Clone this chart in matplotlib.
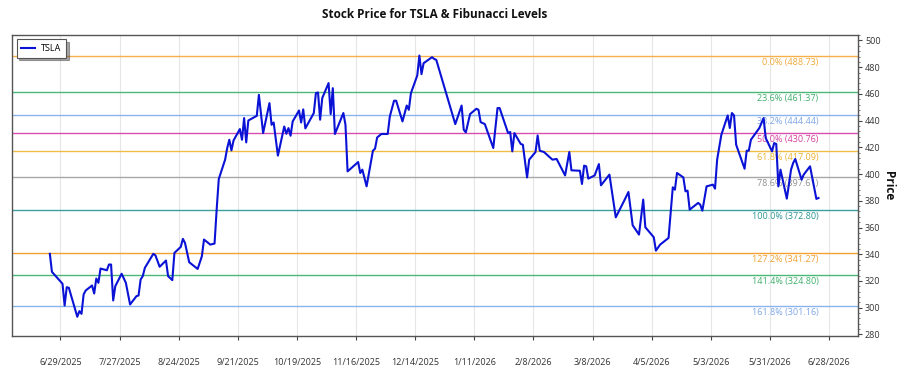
import matplotlib
matplotlib.use('Agg')
import matplotlib.pyplot as plt
import matplotlib.dates as mdates
from matplotlib.ticker import MultipleLocator, FixedLocator
import pandas as pd

plt.rcParams['font.family'] = ['Open Sans', 'DejaVu Sans']

dates = [
    "2025-06-24", "2025-06-25", "2025-06-30", "2025-07-01", "2025-07-02", "2025-07-03",
    "2025-07-07", "2025-07-08", "2025-07-09", "2025-07-10", "2025-07-11", "2025-07-14",
    "2025-07-15", "2025-07-16", "2025-07-17", "2025-07-18", "2025-07-21", "2025-07-22",
    "2025-07-23", "2025-07-24", "2025-07-25", "2025-07-28", "2025-07-30", "2025-08-01",
    "2025-08-04", "2025-08-05", "2025-08-06", "2025-08-07", "2025-08-08", "2025-08-12",
    "2025-08-13", "2025-08-15", "2025-08-18", "2025-08-19", "2025-08-21", "2025-08-22",
    "2025-08-25", "2025-08-26", "2025-08-27", "2025-08-29", "2025-09-02", "2025-09-04",
    "2025-09-05", "2025-09-08", "2025-09-10", "2025-09-11", "2025-09-12", "2025-09-15",
    "2025-09-16", "2025-09-17", "2025-09-18", "2025-09-19", "2025-09-22", "2025-09-23",
    "2025-09-24", "2025-09-25", "2025-09-26", "2025-09-30", "2025-10-01", "2025-10-03",
    "2025-10-06", "2025-10-07", "2025-10-08", "2025-10-10", "2025-10-13", "2025-10-14",
    "2025-10-15", "2025-10-16", "2025-10-17", "2025-10-20", "2025-10-21", "2025-10-22",
    "2025-10-23", "2025-10-27", "2025-10-28", "2025-10-29", "2025-10-30", "2025-10-31",
    "2025-11-03", "2025-11-04", "2025-11-05", "2025-11-06", "2025-11-10", "2025-11-11",
    "2025-11-12", "2025-11-17", "2025-11-18", "2025-11-19", "2025-11-21", "2025-11-24",
    "2025-11-25", "2025-11-26", "2025-11-28", "2025-12-01", "2025-12-02", "2025-12-04",
    "2025-12-05", "2025-12-08", "2025-12-10", "2025-12-11", "2025-12-12", "2025-12-15",
    "2025-12-16", "2025-12-17", "2025-12-18", "2025-12-22", "2025-12-23", "2025-12-24",
    "2026-01-02", "2026-01-05", "2026-01-06", "2026-01-07", "2026-01-09", "2026-01-12",
    "2026-01-13", "2026-01-14", "2026-01-16", "2026-01-20", "2026-01-22", "2026-01-23",
    "2026-01-27", "2026-01-28", "2026-01-29", "2026-01-30", "2026-02-02", "2026-02-03",
    "2026-02-05", "2026-02-06", "2026-02-09", "2026-02-10", "2026-02-11", "2026-02-13",
    "2026-02-17", "2026-02-19", "2026-02-23", "2026-02-25", "2026-02-26", "2026-03-02",
    "2026-03-03", "2026-03-04", "2026-03-05", "2026-03-06", "2026-03-09", "2026-03-11",
    "2026-03-12", "2026-03-16", "2026-03-19", "2026-03-23", "2026-03-25", "2026-03-27",
    "2026-03-30", "2026-04-01", "2026-04-02", "2026-04-06", "2026-04-07", "2026-04-09",
    "2026-04-13", "2026-04-15", "2026-04-16", "2026-04-17", "2026-04-20", "2026-04-21",
    "2026-04-22", "2026-04-23", "2026-04-27", "2026-04-28", "2026-04-29", "2026-05-01",
    "2026-05-04", "2026-05-05", "2026-05-06", "2026-05-08", "2026-05-11", "2026-05-12",
    "2026-05-13", "2026-05-14", "2026-05-15", "2026-05-19", "2026-05-20", "2026-05-21",
    "2026-05-22", "2026-05-26", "2026-05-28", "2026-05-29", "2026-06-01", "2026-06-02",
    "2026-06-03", "2026-06-04", "2026-06-05", "2026-06-08", "2026-06-10", "2026-06-11",
    "2026-06-12", "2026-06-15", "2026-06-16", "2026-06-19", "2026-06-22", "2026-06-23",
]

prices = [
    340.3, 326.8, 317.9, 301.6, 315.3, 314.9,
    293.2, 297.4, 295.4, 309.9, 312.9, 316.6,
    310.6, 321.8, 318.6, 329.3, 328.0, 332.3,
    332.3, 305.4, 316.1, 325.4, 318.6, 302.4,
    308.6, 309.1, 321.1, 323.6, 329.8, 340.3,
    339.2, 330.6, 335.3, 323.6, 320.6, 341.0,
    345.5, 351.5, 348.5, 334.0, 329.0, 338.5,
    351.0, 347.2, 348.0, 373.4, 396.3, 410.8,
    419.5, 425.7, 417.7, 425.2, 433.7, 425.7,
    441.9, 423.7, 440.1, 443.6, 459.3, 430.7,
    453.1, 436.9, 438.6, 413.8, 435.6, 430.2,
    434.4, 428.7, 439.4, 447.6, 438.6, 448.4,
    434.2, 445.7, 460.6, 461.1, 440.7, 456.9,
    468.1, 444.9, 464.3, 430.0, 445.7, 436.9,
    402.0, 409.0, 400.8, 403.3, 390.8, 417.5,
    419.0, 427.4, 430.0, 430.0, 443.1, 454.9,
    454.9, 439.4, 451.3, 448.1, 460.6, 473.8,
    488.73, 474.8, 483.0, 487.5, 486.2, 485.5,
    437.4, 451.3, 433.2, 431.2, 444.9, 448.9,
    448.1, 438.9, 437.4, 419.5, 449.4, 449.4,
    430.7, 431.5, 417.0, 430.7, 422.5, 422.0,
    397.5, 410.8, 416.5, 428.9, 417.5, 416.5,
    410.8, 411.3, 399.0, 416.5, 402.8, 402.5,
    392.6, 406.3, 405.8, 396.6, 399.0, 407.5,
    391.6, 399.6, 367.6, 380.1, 386.6, 361.7,
    354.7, 380.9, 360.2, 352.7, 342.7, 347.2,
    352.2, 390.1, 388.3, 400.8, 397.5, 387.1,
    387.6, 373.4, 378.4, 377.1, 372.6, 390.8,
    392.1, 389.1, 410.8, 429.4, 443.9, 434.5,
    445.7, 443.9, 422.0, 404.0, 417.5, 417.5,
    425.7, 434.5, 441.9, 427.0, 417.0, 423.2,
    422.5, 390.8, 403.3, 381.6, 403.3, 408.3,
    411.3, 395.8, 399.6, 405.8, 381.4, 382.1,
]

fib_labels = ["0.0%", "23.6%", "38.2%", "50.0%", "61.8%", "78.6%",
              "100.0%", "127.2%", "141.4%", "161.8%"]
fib_levels = [488.73, 461.37, 444.44, 430.76, 417.09, 397.61,
              372.80, 341.27, 324.80, 301.16]
fib_colors = ["#f5b04a", "#4cb878", "#8ab4ee", "#d94fb0", "#f0bc48", "#a8a8a8",
              "#3aa0a0", "#f5a030", "#4cb878", "#8ab4ee"]
fib_text_colors = ["#f0a838", "#3fae6c", "#7ea6e6", "#d6409f", "#e8b030", "#909090",
                   "#2e9494", "#f0a030", "#3fae6c", "#7ea6e6"]

tick_dates = ["2025-06-29", "2025-07-27", "2025-08-24", "2025-09-21", "2025-10-19",
              "2025-11-16", "2025-12-14", "2026-01-11", "2026-02-08", "2026-03-08",
              "2026-04-05", "2026-05-03", "2026-05-31", "2026-06-28"]
tick_labels = ["6/29/2025", "7/27/2025", "8/24/2025", "9/21/2025", "10/19/2025",
               "11/16/2025", "12/14/2025", "1/11/2026", "2/8/2026", "3/8/2026",
               "4/5/2026", "5/3/2026", "5/31/2026", "6/28/2026"]

W, H = 900, 375
fig = plt.figure(figsize=(W / 100, H / 100), dpi=100)
L, R, T, B = 12, 858, 35, 336
ax = fig.add_axes([L / W, 1 - B / H, (R - L) / W, (B - T) / H])

x = pd.to_datetime(dates)
tx = pd.to_datetime(tick_dates)

# vertical grid
for t in tx:
    ax.axvline(t, color="#e6e6e6", lw=0.8, zorder=0)

for lvl, lab, c, tc in zip(fib_levels, fib_labels, fib_colors, fib_text_colors):
    ax.axhline(lvl, color=c, lw=1.0, zorder=1)
    ax.annotate(f"{lab} ({lvl:.2f})", xy=(x[-1], lvl), xytext=(0, -1.5),
                textcoords="offset points", ha="right", va="top",
                fontsize=6.5, color=tc, zorder=2)

ax.plot(x, prices, color="#0a12d6", lw=1.5, label="TSLA", zorder=3)

ax.set_xlim(pd.Timestamp("2025-06-06 02:00"), pd.Timestamp("2026-07-11 17:00"))
ax.set_ylim(278.8, 504.1)

ax.xaxis.set_major_locator(FixedLocator(mdates.date2num(tx)))
ax.set_xticklabels(tick_labels)
ax.tick_params(axis="x", direction="out", length=3, width=0.8, color="#444444",
               pad=13, labelsize=6.5, labelcolor="#333333")

ax.yaxis.tick_right()
ax.yaxis.set_label_position("right")
ax.yaxis.set_major_locator(MultipleLocator(20))
ax.yaxis.set_minor_locator(MultipleLocator(4))
ax.tick_params(axis="y", which="major", direction="out", length=3, width=0.8,
               color="#444444", pad=2, labelsize=6.5, labelcolor="#333333")
ax.tick_params(axis="y", which="minor", direction="out", length=1.5, width=0.6,
               color="#666666")
ax.set_ylabel("Price", rotation=-90, fontsize=8.5, fontweight="bold",
              labelpad=10, color="#111111")

for s in ax.spines.values():
    s.set_color("#555555")
    s.set_linewidth(1.0)

ax.set_title("Stock Price for TSLA & Fibunacci Levels", fontsize=8.5,
             fontweight="bold", pad=12.5, color="#111111")

leg = ax.legend(loc="upper left", bbox_to_anchor=(16.5 / W, 1 - 39.5 / H),
                bbox_transform=fig.transFigure, borderaxespad=0, fontsize=6.5,
                fancybox=False, shadow=True, handlelength=1.6, handletextpad=0.6,
                borderpad=0.5, framealpha=1)
leg.get_frame().set_edgecolor("#555555")
leg.get_frame().set_linewidth(0.8)

fig.savefig("out.png", dpi=100)
